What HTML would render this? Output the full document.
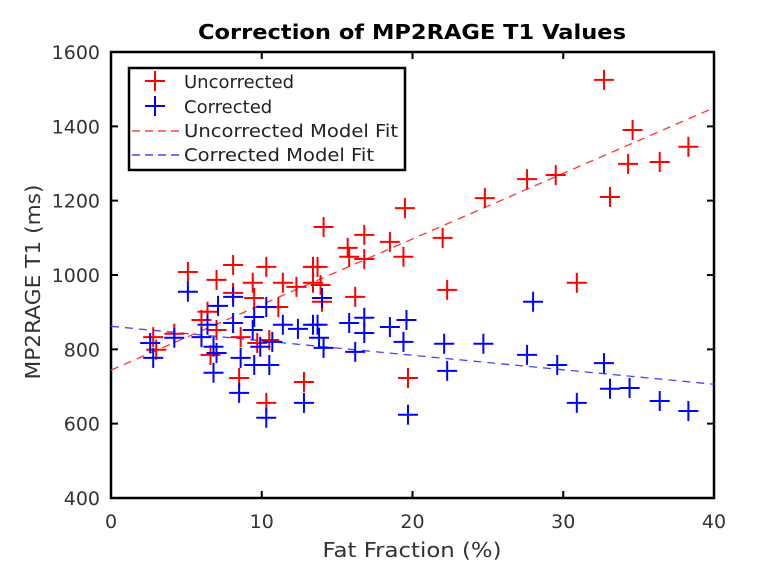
<!DOCTYPE html>
<html><head><meta charset="utf-8"><style>
body{margin:0;background:#fff;width:768px;height:576px;overflow:hidden}
text{font-family:"DejaVu Sans","Liberation Sans",sans-serif}
</style></head><body>
<svg id="chart" width="768" height="576" xmlns="http://www.w3.org/2000/svg">
<text x="412" y="39" text-anchor="middle" font-size="20" font-weight="bold" fill="#000" textLength="428" lengthAdjust="spacingAndGlyphs">Correction of MP2RAGE T1 Values</text>
<g id="axes"></g>
<g id="marks"></g>
<text x="412" y="557" text-anchor="middle" font-size="20" fill="#333" textLength="179" lengthAdjust="spacingAndGlyphs">Fat Fraction (%)</text>
<text transform="translate(40,282) rotate(-90)" text-anchor="middle" font-size="20" fill="#333" textLength="195" lengthAdjust="spacingAndGlyphs">MP2RAGE T1 (ms)</text>
<g>
<rect x="129" y="68" width="276" height="102" fill="#fff" stroke="#000" stroke-width="2.5"/>
<g><path d="M145 81h20M155 71v20" stroke="#f00" stroke-width="2"/><text x="184" y="88" font-size="18" fill="#222">Uncorrected</text></g>
<g><path d="M145 106h20M155 96v20" stroke="#00f" stroke-width="2"/><text x="184" y="113" font-size="18" fill="#222">Corrected</text></g>
<g><line x1="132" y1="131" x2="181" y2="131" stroke="#f44" stroke-width="1.5" stroke-dasharray="8,5"/><text x="184" y="137" font-size="18" fill="#222" textLength="214" lengthAdjust="spacingAndGlyphs">Uncorrected Model Fit</text></g>
<g><line x1="132" y1="155" x2="181" y2="155" stroke="#44f" stroke-width="1.5" stroke-dasharray="8,5"/><text x="184" y="161" font-size="18" fill="#222" textLength="190" lengthAdjust="spacingAndGlyphs">Corrected Model Fit</text></g>
</g>
</svg>
<script>
const xTicks=[0,10,20,30,40];
const yTicks=[400,600,800,1000,1200,1400,1600];
const uncFat=[5.1,8.1,10.3,7.0,9.4,11.4,12.3,13.4,13.4,8.1,9.5,11.1,6.4,6.0,7.0,8.6,10.5,9.7,2.8,4.2,3.0,6.6,8.5,12.8,10.3,32.7,34.6,38.3,34.3,36.4,33.1,29.5,27.6,24.8,19.5,14.1,16.8,18.5,22.0,15.7,15.8,16.8,19.4,13.7,13.9,14.0,16.2,22.3,30.9,19.7];
const uncT1=[1008,1027,1022,987,979,979,968,1022,979,952,938,914,901,879,852,833,825,817,833,842,799,785,723,712,656,1525,1390,1345,1299,1304,1210,1269,1258,1207,1180,1129,1108,1089,1100,1073,1049,1043,1049,1022,973,928,941,960,979,723];
const corFat=[5.1,8.1,7.1,10.3,9.5,11.4,12.4,13.4,6.4,9.4,8.1,6.0,6.8,9.9,10.7,4.2,2.6,7.0,2.8,8.6,9.5,10.5,6.8,8.5,12.8,10.3,14.0,28.0,13.7,15.8,16.8,16.8,18.5,19.6,19.4,13.8,14.1,16.2,22.1,24.7,22.3,27.6,29.6,32.7,33.1,34.4,36.4,38.3,30.9,19.7];
const corT1=[955,941,917,914,887,866,855,866,866,852,871,833,807,807,820,831,817,790,777,777,758,758,737,683,656,616,938,928,866,871,885,844,860,879,820,831,804,793,815,815,742,785,758,763,694,696,661,634,656,624];
const uncFit=[744,17.65];
const corFit=[862,-3.9];
const X0=111,X1=714,Y0=498,Y1=52;
const sx=v=>X0+(v-0)/(40-0)*(X1-X0);
const sy=v=>Y0-(v-400)/(1600-400)*(Y0-Y1);
const NS='http://www.w3.org/2000/svg';
const axes=document.getElementById('axes'),marks=document.getElementById('marks');
function mk(tag,attrs,parent){const e=document.createElementNS(NS,tag);for(const k in attrs)e.setAttribute(k,attrs[k]);parent.appendChild(e);return e;}
xTicks.forEach(t=>{
  const l=mk('path',{d:`M${sx(t)} ${Y0}v-7M${sx(t)} ${Y1}v7`,stroke:'#000','stroke-width':2},axes);
  
  
  const tx=mk('text',{x:sx(t),y:Y0+30,'text-anchor':'middle','font-size':19,fill:'#333'},axes);tx.textContent=t;
  
  
});
yTicks.forEach(t=>{
  const l=mk('path',{d:`M${X0} ${sy(t)}h7M${X1} ${sy(t)}h-7`,stroke:'#000','stroke-width':2},axes);
  
  
  const tx=mk('text',{x:X0-11,y:sy(t)+7,'text-anchor':'end','font-size':19,fill:'#333'},axes);tx.textContent=t;
  
  
});
const fr=mk('rect',{x:X0,y:Y1,width:X1-X0,height:Y0-Y1,fill:'none',stroke:'#000','stroke-width':2.5},axes);


function fitLine(f,col,name){
  const l=mk('line',{x1:sx(0),y1:sy(f[0]),x2:sx(40),y2:sy(f[0]+f[1]*40),stroke:col,'stroke-width':1.3,'stroke-dasharray':'8,6'},marks);
  
  
}
fitLine(uncFit,'#f33','uncorrected-fit-line');
fitLine(corFit,'#44f','corrected-fit-line');
function pts(xs,ys,col,name){
  xs.forEach((v,i)=>{
    const x=sx(v),y=sy(ys[i]);
    const p=mk('path',{d:`M${x-10} ${y}h20M${x} ${y-10}v20`,stroke:col,'stroke-width':2},marks);
    
    
  });
}
pts(uncFat,uncT1,'#f00','uncorrected-point');
pts(corFat,corT1,'#00f','corrected-point');
</script>
</body></html>
